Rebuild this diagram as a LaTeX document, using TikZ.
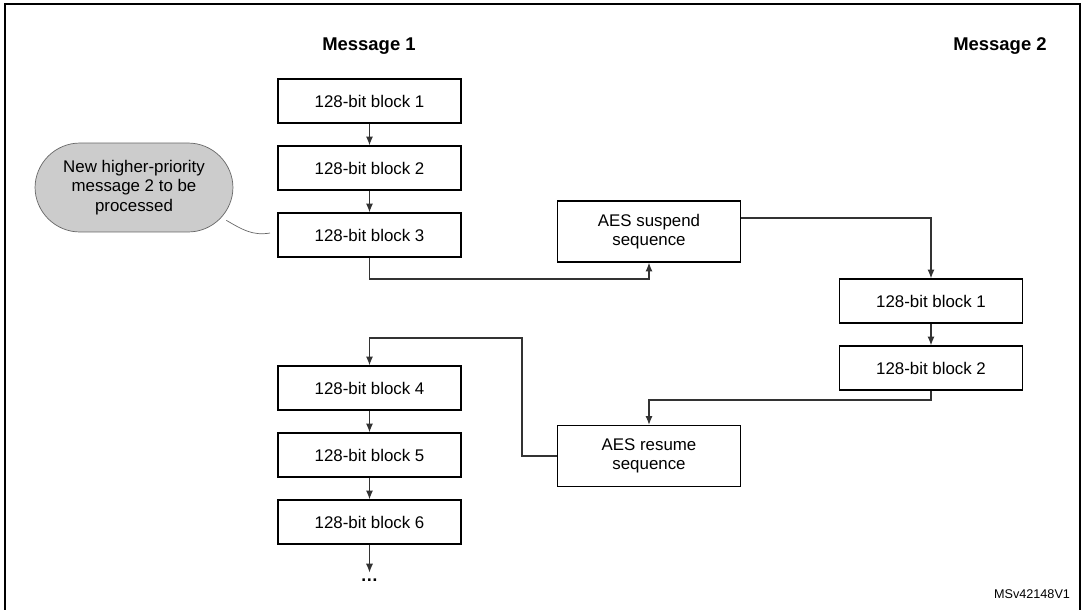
\documentclass[tikz,border=0pt]{standalone}
\usepackage{fontspec}
\setmainfont{Liberation Sans}
\usetikzlibrary{arrows.meta}
\tikzstyle{block}=[draw,thick,minimum width=3.66cm,minimum height=0.88cm,inner sep=1pt,font=\fontsize{9.6}{11.2}\selectfont,align=center]
\tikzstyle{seqbox}=[block,minimum height=1.22cm]
\tikzstyle{link}=[draw=black!80,semithick,-{Latex[length=5pt,width=4pt]}]
\begin{document}
\begin{tikzpicture}[x=0.02cm,y=-0.02cm]
\useasboundingbox (0,0) rectangle (1085,609);
\draw[thick] (5,4) rectangle (1080,615);

\node[font=\bfseries\fontsize{10.5}{12}\selectfont] (t1) at (369,46) {Message 1};
\node[font=\bfseries\fontsize{10.5}{12}\selectfont] (t2) at (1000,46) {Message 2};

\node[block] (a1) at (369.5,101) {128-bit block 1};
\node[block] (a2) at (369.5,168) {128-bit block 2};
\node[block] (a3) at (369.5,235) {128-bit block 3};
\node[block] (a4) at (369.5,388) {128-bit block 4};
\node[block] (a5) at (369.5,455) {128-bit block 5};
\node[block] (a6) at (369.5,522) {128-bit block 6};
\node[font=\bfseries] (dots) at (369.5,580) {\dots};

\node[block] (b1) at (931,301) {128-bit block 1};
\node[block] (b2) at (931,368) {128-bit block 2};

\node[seqbox] (sus) at (649,231.5) {AES suspend\\sequence};
\node[seqbox] (res) at (649,456) {AES resume\\sequence};

\node[draw=black!60,fill=black!20,rounded corners=0.9cm,minimum width=3.96cm,minimum height=1.78cm,align=center,font=\fontsize{9.6}{11.2}\selectfont] (note) at (134,187.5) {New higher-priority\\message 2 to be\\processed};
\coordinate (tip) at (270,233);
\draw[black!60] (note.south east) ++(-7,-12) to[out=-30,in=190] (tip);

\draw[link] (a1) -- (a2);
\draw[link] (a2) -- (a3);
\draw[link] (a4) -- (a5);
\draw[link] (a5) -- (a6);
\draw[link] (a6) -- (dots);
\draw[link] (b1) -- (b2);
\draw[link] (a3.south) |- (600,279) -| (sus.south);
\draw[link] (sus.east |- 0,218) -| (b1.north);
\draw[link] (b2.south) |- (700,400) -| (res.north);
\draw[link] (res.west) -| (522,338) -| (a4.north);

\node[font=\fontsize{7.2}{8}\selectfont] (id) at (1032,594) {MSv42148V1};
\end{tikzpicture}
\end{document}
